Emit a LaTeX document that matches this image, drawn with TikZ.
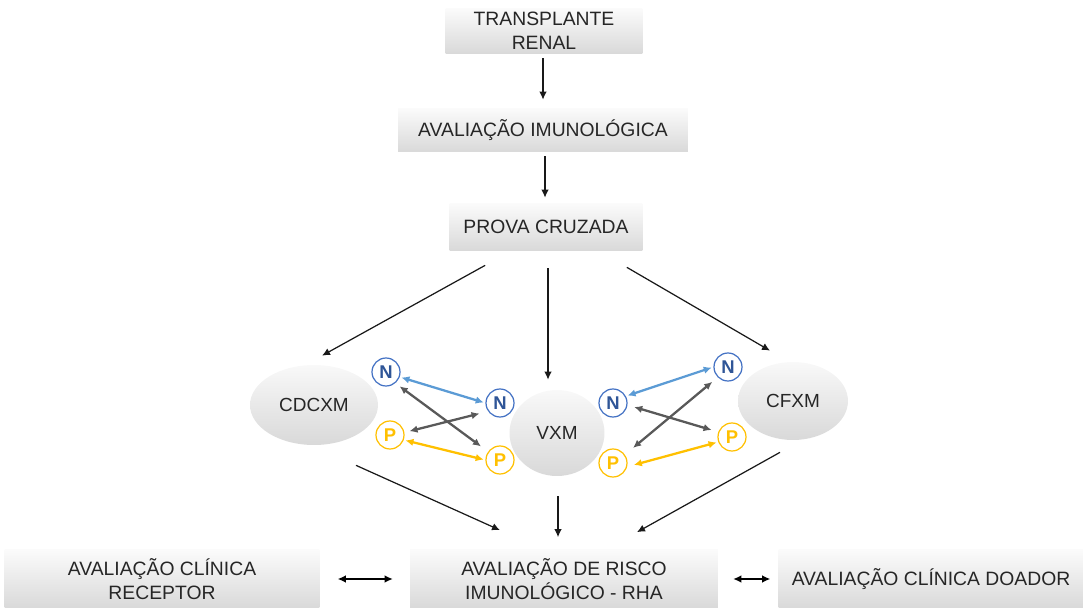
\documentclass[tikz,border=0pt]{standalone}
\usepackage{fontspec}
\setmainfont{Liberation Sans}
\usetikzlibrary{arrows.meta,shapes.geometric}

\definecolor{nborder}{HTML}{4472C4}
\definecolor{ntext}{HTML}{2F5597}
\definecolor{nline}{HTML}{5B9BD5}
\definecolor{pyellow}{HTML}{FFC000}
\definecolor{xgray}{HTML}{595959}

\begin{document}
\begin{tikzpicture}[
    x=0.02cm, y=-0.02cm,
    >={Latex[length=1.6mm,width=1.5mm]},
    font=\fontsize{11}{13.5}\selectfont,
    stage/.style={
        rectangle,
        top color=gray!3,
        bottom color=gray!30,
        minimum width=#1,
        minimum height=0.92cm,
        text=black!85,
        align=center,
        inner sep=2pt
    },
    test/.style={
        ellipse,
        top color=gray!5,
        bottom color=gray!30,
        text=black!85,
        font=\fontsize{10.8}{13}\selectfont,
        inner sep=0pt
    },
    badge/.style={
        circle,
        draw=#1,
        line width=0.7pt,
        fill=white,
        minimum size=0.56cm,
        inner sep=0pt,
        font=\fontsize{10.5}{12}\selectfont\bfseries
    },
    flow/.style={->,line width=0.7pt,black!90},
    link/.style={<->,line width=1.3pt,draw=#1,shorten <=1pt,shorten >=1pt}
]
\useasboundingbox (0,0) rectangle (1083,608);

% Main steps
\node[stage=3.94cm] (tx) at (544,31) {TRANSPLANTE\\RENAL};
\node[stage=5.8cm, minimum height=0.88cm] (imuno) at (543,130) {AVALIAÇÃO IMUNOLÓGICA};
\node[stage=3.86cm, minimum height=0.96cm] (prova) at (546,227) {PROVA CRUZADA};

% Crossmatch tests
\node[test, minimum width=2.56cm, minimum height=1.6cm] (cdc) at (314,405) {CDCXM};
\node[test, minimum width=1.9cm, minimum height=1.72cm] (vxm) at (557,433) {VXM};
\node[test, minimum width=2.2cm, minimum height=1.56cm] (cf) at (793,401) {CFXM};

% N / P results
\node[badge=nborder, text=ntext] (n1) at (386,372) {N};
\node[badge=pyellow, text=pyellow] (p1) at (390,435) {P};
\node[badge=nborder, text=ntext] (n2) at (500,403) {N};
\node[badge=pyellow, text=pyellow] (p2) at (500,460) {P};
\node[badge=nborder, text=ntext] (n3) at (613,403) {N};
\node[badge=pyellow, text=pyellow] (p3) at (613,463) {P};
\node[badge=nborder, text=ntext] (n4) at (728,367) {N};
\node[badge=pyellow, text=pyellow] (p4) at (732,437) {P};

% Bottom row
\node[stage=6.3cm, minimum height=1.18cm] (rec) at (162,579) {AVALIAÇÃO CLÍNICA\\RECEPTOR};
\node[stage=6.16cm, minimum height=1.18cm] (rha) at (564,579) {AVALIAÇÃO DE RISCO\\IMUNOLÓGICO - RHA};
\node[stage=6.1cm, minimum height=1.18cm] (doa) at (931,579) {AVALIAÇÃO CLÍNICA DOADOR};

% Flow arrows
\draw[flow, shorten <=0.08cm, shorten >=0.16cm] (tx.south -| 543,0) -- (imuno.north -| 543,0);
\draw[flow, shorten <=0.08cm, shorten >=0.1cm] (imuno.south -| 545,0) -- (prova.north -| 545,0);
\draw[flow] ([xshift=0.72cm,yshift=-0.28cm]prova.south west) -- ([xshift=0.16cm,yshift=0.18cm]cdc.north);
\draw[flow, shorten <=0.34cm, shorten >=0.2cm] (prova.south -| 548,0) -- (vxm.north -| 548,0);
\draw[flow] ([xshift=-0.32cm,yshift=-0.32cm]prova.south east) -- ([xshift=-0.46cm,yshift=0.22cm]cf.north);
\draw[flow] ([xshift=0.84cm,yshift=-0.4cm]cdc.south) -- ([xshift=-1.28cm,yshift=0.38cm]rha.north);
\draw[flow, shorten <=0.4cm, shorten >=0.24cm] (vxm.south -| 558,0) -- (rha.north -| 558,0);
\draw[flow] ([xshift=-0.26cm,yshift=-0.24cm]cf.south) -- ([xshift=1.46cm,yshift=0.34cm]rha.north);
\draw[<->, line width=0.7pt, shorten <=0.36cm, shorten >=0.34cm] (rec) -- (rha);
\draw[<->, line width=0.7pt, shorten <=0.3cm, shorten >=0.16cm] (rha) -- (doa);

% Result links, left
\draw[link=nline] (n1.-20) -- (n2.180);
\draw[link=xgray, shorten <=3pt, shorten >=5pt] (n1.-50) -- (p2.145);
\draw[link=xgray, shorten <=3pt, shorten >=5pt] (p1.10) -- (n2.-145);
\draw[link=pyellow] (p1.-20) -- (p2.180);

% Result links, right
\draw[link=nline] (n3.28) -- (n4.180);
\draw[link=xgray, shorten <=4pt, shorten >=4pt] (n3.-8) -- (p4.160);
\draw[link=xgray, shorten <=6pt, shorten >=4pt] (p3.35) -- (n4.-135);
\draw[link=pyellow, shorten <=4pt] (p3.-15) -- (p4.-160);

\end{tikzpicture}
\end{document}
